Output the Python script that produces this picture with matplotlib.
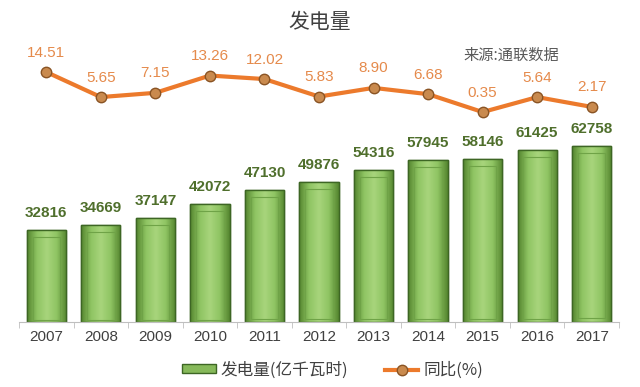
import numpy as np
import matplotlib
matplotlib.use('Agg')
import matplotlib.pyplot as plt
from matplotlib.lines import Line2D
from matplotlib.patches import Patch
from matplotlib.colors import LinearSegmentedColormap

plt.rcParams['font.family'] = ['Liberation Sans Narrow', 'Liberation Sans', 'Noto Sans CJK SC', 'DejaVu Sans']

# ================= DATA =================
years = ['2007', '2008', '2009', '2010', '2011', '2012', '2013', '2014', '2015', '2016', '2017']
power = [32816, 34669, 37147, 42072, 47130, 49876, 54316, 57945, 58146, 61425, 62758]
yoy = [14.51, 5.65, 7.15, 13.26, 12.02, 5.83, 8.90, 6.68, 0.35, 5.64, 2.17]
yoy_labels = ['14.51', '5.65', '7.15', '13.26', '12.02', '5.83', '8.90', '6.68', '0.35', '5.64', '2.17']

GREEN_TXT = '#4f6f2c'
ORANGE = '#ec7a2c'
ORANGE_TXT = '#e58a4b'
CJK = ['Noto Sans CJK SC', 'DejaVu Sans']

fig = plt.figure(figsize=(6.4, 3.87), dpi=100)
# axes box in pixels: x 19..619, y 22..322 (from top)
ax = fig.add_axes([19 / 640, (387 - 322) / 387, 600 / 640, 300 / 387])
x = np.arange(len(years))

# ---- bars ----
bars = ax.bar(x, power, width=0.72, color='#86b95a', edgecolor='#44702a', linewidth=1.0, zorder=2)
cmap = LinearSegmentedColormap.from_list('g', ['#55862f', '#8fc463', '#a8d57c', '#8fc463', '#55862f'])
grad = np.linspace(0, 1, 64).reshape(1, -1)
for b in bars:
    x0, w, h = b.get_x(), b.get_width(), b.get_height()
    im = ax.imshow(grad, cmap=cmap, aspect='auto', extent=[x0, x0 + w, 0, h], zorder=2.1)
    im.set_clip_path(b)
    # inner bevel
    ax.add_patch(plt.Rectangle((x0 + w * 0.15, h * 0.02), w * 0.7, h - h * 0.02 - 2500,
                               fill=False, edgecolor='#6fa347', linewidth=0.8, zorder=2.2))
    ax.add_patch(plt.Rectangle((x0, 0), w, h, fill=False, edgecolor='#3d6624', linewidth=1.0, zorder=2.3))

for xi, v in zip(x, power):
    ax.annotate(str(v), (xi, v), xytext=(0, 12), textcoords='offset points',
                ha='center', va='center', fontsize=11, fontweight='bold', color=GREEN_TXT)

ax.set_xlim(-0.5, len(years) - 0.5)
ax.set_ylim(0, 107000)
ax.set_yticks([])
ax.set_xticks(x)
ax.set_xticklabels(years, fontsize=11, color='#404040')
ax.tick_params(axis='x', length=0, pad=6)
ax.set_xticks(np.arange(-0.5, len(years), 1), minor=True)
ax.tick_params(axis='x', which='minor', length=4, color='#bfbfbf')
for s in ['top', 'left', 'right']:
    ax.spines[s].set_visible(False)
ax.spines['bottom'].set_color('#bfbfbf')

# ---- yoy line ----
ax2 = ax.twinx()
ax2.plot(x, yoy, color=ORANGE, linewidth=3, marker='o', markersize=7.5,
         markerfacecolor='#c98a4e', markeredgecolor='#8a5424', markeredgewidth=1, zorder=3)
for xi, v, t in zip(x, yoy, yoy_labels):
    ax2.annotate(t, (xi, v), xytext=(0, 14), textcoords='offset points',
                 ha='center', va='center', fontsize=11, color=ORANGE_TXT)
ax2.set_ylim(-73.9, 32.2)
ax2.set_yticks([])
for s in ['top', 'left', 'right', 'bottom']:
    ax2.spines[s].set_visible(False)

# ---- texts ----
fig.text(0.5, 1 - 22 / 387, '发电量', ha='center', va='center', fontsize=15,
         color='#404040', family=CJK)
fig.text(511 / 640, 1 - 55 / 387, '来源:通联数据', ha='center', va='center', fontsize=11,
         color='#595959', style='italic', family=CJK)

handles = [Patch(facecolor='#86b95a', edgecolor='#3d6624'),
           Line2D([0], [0], color=ORANGE, linewidth=3, marker='o', markersize=7.5,
                  markerfacecolor='#c98a4e', markeredgecolor='#8a5424')]
leg = fig.legend(handles, ['发电量(亿千瓦时)', '同比(%)'], loc='center', ncol=2,
                 bbox_to_anchor=(0.52, 1 - 370 / 387), frameon=False,
                 prop={'family': CJK, 'size': 12}, handlelength=2.0, handletextpad=0.3,
                 handleheight=0.4, columnspacing=2.2)
for t in leg.get_texts():
    t.set_color('#404040')

fig.savefig('out.png', dpi=100)
